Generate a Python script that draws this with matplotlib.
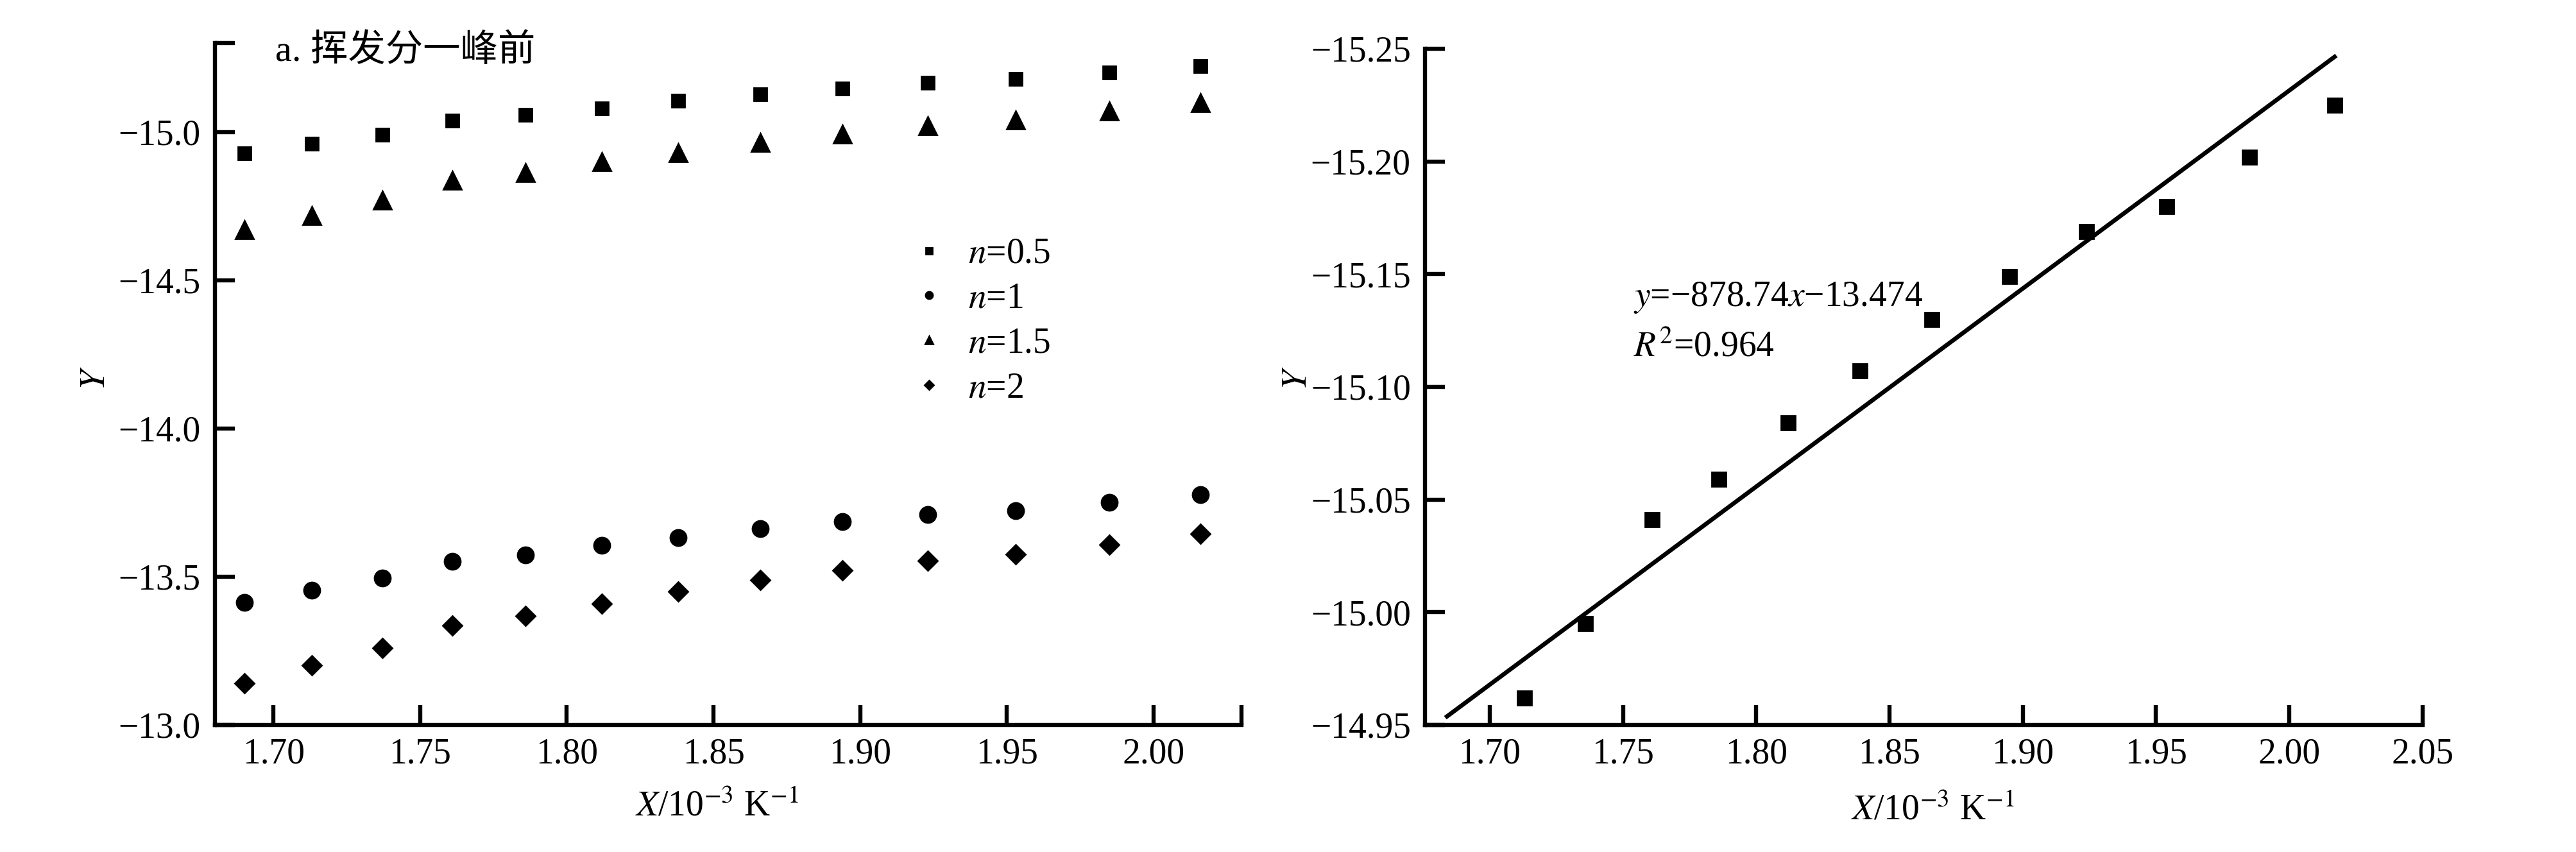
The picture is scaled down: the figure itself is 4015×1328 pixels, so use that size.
#!/usr/bin/env python3
"""
Two-panel Y vs X plot: n series before the volatile peak, and a linear fit.
"""

import matplotlib
matplotlib.use('Agg')
import matplotlib.pyplot as plt
from matplotlib.ticker import FixedLocator, FuncFormatter
from matplotlib.lines import Line2D

plt.rcParams['font.family'] = ['Liberation Serif', 'Noto Sans CJK SC']
plt.rcParams['mathtext.fontset'] = 'stix'
plt.rcParams['axes.unicode_minus'] = True

# Data (panel a)
x_vals = [1.690, 1.713, 1.737, 1.761, 1.786, 1.812, 1.838, 1.866, 1.894, 1.923, 1.953, 1.985, 2.016]
y_n05 = [-14.927, -14.961, -14.990, -15.038, -15.057, -15.079, -15.105, -15.127, -15.147, -15.165, -15.178, -15.200, -15.222]
y_n1 = [-13.413, -13.454, -13.496, -13.552, -13.573, -13.606, -13.631, -13.662, -13.686, -13.709, -13.722, -13.750, -13.777]
y_n15 = [-14.671, -14.719, -14.771, -14.836, -14.864, -14.900, -14.931, -14.964, -14.993, -15.022, -15.040, -15.070, -15.099]
y_n2 = [-13.141, -13.201, -13.259, -13.335, -13.368, -13.410, -13.451, -13.488, -13.521, -13.554, -13.576, -13.609, -13.644]
series_labels = ['$n$=0.5', '$n$=1', '$n$=1.5', '$n$=2']

# Data (right panel, fitted series)
x_fit = [1.713, 1.736, 1.761, 1.786, 1.812, 1.839, 1.866, 1.895, 1.924, 1.954, 1.985, 2.017]
y_fit = [-14.962, -14.995, -15.041, -15.059, -15.084, -15.107, -15.130, -15.149, -15.169, -15.180, -15.202, -15.225]
fit_slope = -878.74
fit_intercept = -13.474
fit_r2 = 0.964
fit_x_range = [1.684, 2.017]

left_xticks = [1.70, 1.75, 1.80, 1.85, 1.90, 1.95, 2.00]
left_yticks = [-15.0, -14.5, -14.0, -13.5, -13.0]
right_xticks = [1.70, 1.75, 1.80, 1.85, 1.90, 1.95, 2.00, 2.05]
right_yticks = [-15.25, -15.20, -15.15, -15.10, -15.05, -15.00, -14.95]

LW = 2.3
FS = 20


def fmt(decimals):
    return FuncFormatter(lambda v, p: f'{v:.{decimals}f}'.replace('-', '\u2212'))


def style_axes(ax):
    for side in ['top', 'right']:
        ax.spines[side].set_visible(False)
    for side in ['left', 'bottom']:
        ax.spines[side].set_linewidth(LW)
    ax.tick_params(which='both', direction='in', length=11, width=LW,
                   labelsize=FS, colors='black')
    ax.tick_params(axis='y', pad=8)
    ax.tick_params(axis='x', pad=7)


fig = plt.figure(figsize=(20.08, 6.64), dpi=200)
fig.patch.set_facecolor('white')

# Left panel
ax1 = fig.add_axes([0.0834, 0.1491, 0.3984, 0.8004])
style_axes(ax1)
ax1.plot(x_vals, y_n05, ls='none', marker='s', ms=7.2, color='black', label=series_labels[0])
ax1.plot(x_vals, y_n1, ls='none', marker='o', ms=9, color='black', label=series_labels[1])
ax1.plot(x_vals, y_n15, ls='none', marker='^', ms=10, color='black', label=series_labels[2])
ax1.plot(x_vals, y_n2, ls='none', marker='D', ms=7.5, color='black', label=series_labels[3])
ax1.set_xlim(1.680, 2.030)
ax1.set_ylim(-13.0, -15.3)
ax1.xaxis.set_major_locator(FixedLocator(left_xticks))
ax1.yaxis.set_major_locator(FixedLocator(left_yticks))
ax1.xaxis.set_minor_locator(FixedLocator([2.030]))
ax1.yaxis.set_minor_locator(FixedLocator([-15.3]))
ax1.xaxis.set_major_formatter(fmt(2))
ax1.yaxis.set_major_formatter(fmt(1))

ax1.text(0.059, 0.988, 'a. 挥发分一峰前', transform=ax1.transAxes,
         fontsize=21, ha='left', va='center')
ax1.text(-0.116, 0.509, '$Y$', transform=ax1.transAxes, fontsize=FS,
         rotation=90, ha='center', va='center')
ax1.text(0.489, -0.120, '$X$/10$^{\u22123}$ K$^{\u22121}$', transform=ax1.transAxes,
         fontsize=FS, ha='center', va='center')

handles = [Line2D([], [], ls='none', marker=m, ms=s, color='black')
           for m, s in zip(['s', 'o', '^', 'D'], [3.5, 4.0, 4.5, 3.5])]
ax1.legend(handles, series_labels, loc='upper left', bbox_to_anchor=(0.685, 0.715),
           frameon=False, fontsize=20, handlelength=0.6, handletextpad=0.8,
           labelspacing=0.32, borderpad=0, borderaxespad=0)

# Right panel
ax2 = fig.add_axes([0.5530, 0.1491, 0.3872, 0.7937])
style_axes(ax2)
ax2.plot(x_fit, y_fit, ls='none', marker='s', ms=7.6, color='black')
fit_y = [fit_slope * x * 1e-3 + fit_intercept for x in fit_x_range]
ax2.plot(fit_x_range, fit_y, color='black', lw=2.4)
ax2.set_xlim(1.6757, 2.05)
ax2.set_ylim(-14.95, -15.25)
ax2.xaxis.set_major_locator(FixedLocator(right_xticks))
ax2.yaxis.set_major_locator(FixedLocator(right_yticks))
ax2.xaxis.set_major_formatter(fmt(2))
ax2.yaxis.set_major_formatter(fmt(2))

ax2.text(0.209, 0.632, f'$y$=\u2212{abs(fit_slope):.2f}$x$\u2212{abs(fit_intercept):.3f}',
         transform=ax2.transAxes, fontsize=FS, ha='left', va='center')
ax2.text(0.209, 0.558, f'$R^2$={fit_r2:.3f}', transform=ax2.transAxes,
         fontsize=FS, ha='left', va='center')
ax2.text(-0.128, 0.513, '$Y$', transform=ax2.transAxes, fontsize=FS,
         rotation=90, ha='center', va='center')
ax2.text(0.509, -0.127, '$X$/10$^{\u22123}$ K$^{\u22121}$', transform=ax2.transAxes,
         fontsize=FS, ha='center', va='center')

plt.savefig('out.png', dpi=200, facecolor='white')
plt.close()
